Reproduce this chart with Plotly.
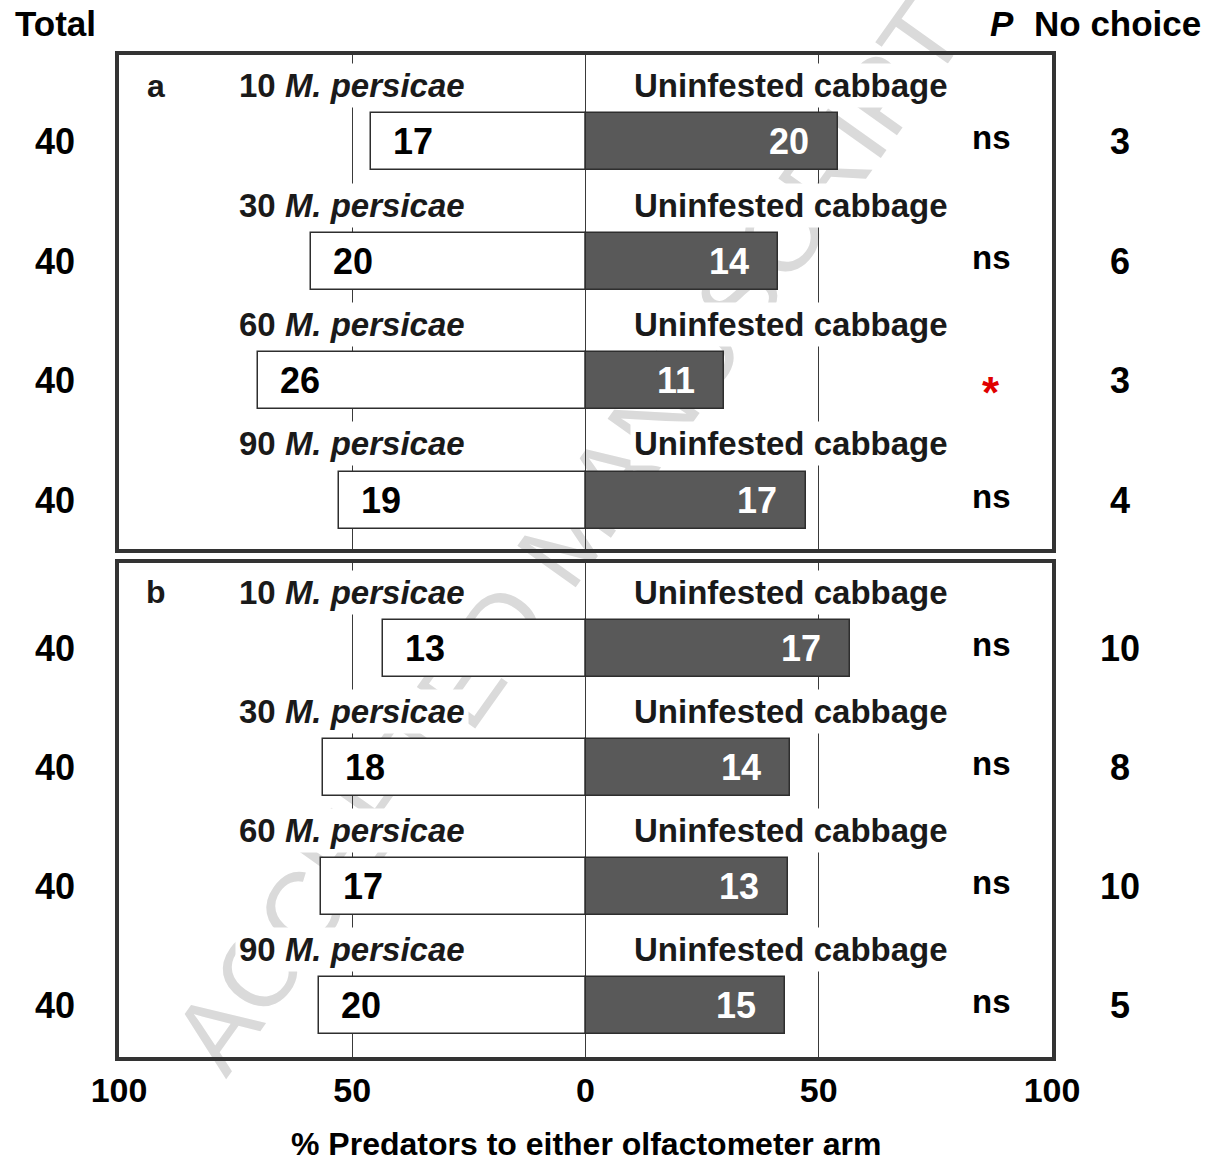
import plotly.graph_objects as go

# Aphid densities offered against uninfested cabbage
densities = [10, 30, 60, 90]
row_ids = [0, 1, 2, 3]

# Panel a: counts choosing each arm
a_aphid = [17, 20, 26, 19]
a_cabbage = [20, 14, 11, 17]
a_nochoice = [3, 6, 3, 4]
a_total = [40, 40, 40, 40]
a_sig = ["ns", "ns", "*", "ns"]

# Panel b: counts choosing each arm
b_aphid = [13, 18, 17, 20]
b_cabbage = [17, 14, 13, 15]
b_nochoice = [10, 8, 10, 5]
b_total = [40, 40, 40, 40]
b_sig = ["ns", "ns", "ns", "ns"]

tick_vals = [-100, -50, 0, 50, 100]
tick_text = ["100", "50", "0", "50", "100"]

FONT = "Liberation Sans"
DARK = "#595959"
EDGE = "#2e2e2e"

# figure geometry (pixels)
W, H = 1212, 1163
ML, MR, MT, MB = 119, 160, 55, 106
PW = W - ML - MR
PH = H - MT - MB


def px_x(px):
    return (px - ML) / PW


def px_y(py):
    return (H - MB - py) / PH


panels = [
    dict(aphid=a_aphid, cab=a_cabbage, nc=a_nochoice, tot=a_total, sig=a_sig,
         xa="x", ya="y", tag="a", rng=[3.41, -0.728]),
    dict(aphid=b_aphid, cab=b_cabbage, nc=b_nochoice, tot=b_total, sig=b_sig,
         xa="x2", ya="y2", tag="b", rng=[3.435, -0.715]),
]

fig = go.Figure()
annotations = []


def note(**kw):
    kw.setdefault("showarrow", False)
    kw.setdefault("xanchor", "center")
    kw.setdefault("yanchor", "middle")
    annotations.append(kw)


for p in panels:
    responders = [t - n for t, n in zip(p["tot"], p["nc"])]
    left_pct = [c / r * 100 for c, r in zip(p["aphid"], responders)]
    right_pct = [c / r * 100 for c, r in zip(p["cab"], responders)]

    fig.add_trace(go.Bar(
        y=row_ids, x=[-v for v in left_pct], orientation="h", width=0.477,
        marker=dict(color="white", line=dict(color=EDGE, width=1.5)),
        xaxis=p["xa"], yaxis=p["ya"], showlegend=False, hoverinfo="skip"))
    fig.add_trace(go.Bar(
        y=row_ids, x=right_pct, orientation="h", width=0.477,
        marker=dict(color=DARK, line=dict(color=EDGE, width=1.5)),
        xaxis=p["xa"], yaxis=p["ya"], showlegend=False, hoverinfo="skip"))

    xr, yr = p["xa"], p["ya"]
    lab_font = dict(family=FONT, size=33, color="#1a1a1a", weight="bold")
    num_font = dict(family=FONT, size=36, color="black", weight="bold")

    note(x=-92, y=-0.47, xref=xr, yref=yr, text=p["tag"],
         font=dict(family=FONT, size=32, color="#1a1a1a", weight="bold"),
         bgcolor="white", borderpad=4)

    for i in row_ids:
        ly = i - 0.47
        note(x=-50, y=ly, xref=xr, yref=yr,
             text=f"{densities[i]} <i>M. persicae</i>", font=lab_font,
             bgcolor="white", borderpad=3)
        note(x=44, y=ly, xref=xr, yref=yr,
             text="Uninfested cabbage", font=lab_font,
             bgcolor="white", borderpad=3)
        note(x=-left_pct[i], y=i, xref=xr, yref=yr,
             xanchor="left", xshift=20, text=str(p["aphid"][i]), font=num_font)
        note(x=right_pct[i], y=i, xref=xr, yref=yr,
             xanchor="right", xshift=-27, text=str(p["cab"][i]),
             font=dict(num_font, color="white"))
        if p["sig"][i] == "*":
            note(x=87, y=i, xref=xr, yref=yr, yshift=-12, text="*",
                 font=dict(family=FONT, size=44, color="#e00000",
                           weight="bold"))
        else:
            note(x=87, y=i, xref=xr, yref=yr, yshift=4, text=p["sig"][i],
                 font=dict(family=FONT, size=33, color="black", weight="bold"))
        note(x=px_x(55), y=i, xref="paper", yref=yr,
             text=str(p["tot"][i]), font=num_font)
        note(x=px_x(1120), y=i, xref="paper", yref=yr,
             text=str(p["nc"][i]), font=num_font)

# column headers
head_font = dict(family=FONT, size=35, color="black", weight="bold")
note(x=px_x(55), y=px_y(24), xref="paper", yref="paper",
     text="Total", font=head_font)
note(x=px_x(1002), y=px_y(24), xref="paper", yref="paper",
     text="<i>P</i>", font=head_font)
note(x=px_x(1117), y=px_y(24), xref="paper", yref="paper",
     text="No choice", font=head_font)
# x-axis title
note(x=px_x(586), y=px_y(1144), xref="paper", yref="paper",
     text="% Predators to either olfactometer arm",
     font=dict(family=FONT, size=32, color="black", weight="bold"))

frame = dict(showline=True, mirror=True, linewidth=4, linecolor="#333333")
xcommon = dict(range=[-100, 100], tickvals=tick_vals, ticktext=tick_text,
               showgrid=True, gridcolor="#3a3a3a", gridwidth=1,
               zeroline=False, ticks="", fixedrange=True, **frame)
ycommon = dict(showticklabels=False, showgrid=False, zeroline=False,
               ticks="", **frame)

split_top = px_y(549)
split_bot = px_y(563)

fig.update_layout(
    width=W, height=H,
    margin=dict(l=ML, r=MR, t=MT, b=MB),
    paper_bgcolor="white", plot_bgcolor="rgba(0,0,0,0)",
    barmode="overlay", bargap=0,
    xaxis=dict(anchor="y", showticklabels=False, **xcommon),
    yaxis=dict(domain=[split_top, 1], range=panels[0]["rng"], anchor="x",
               **ycommon),
    xaxis2=dict(anchor="y2", showticklabels=True, ticklabelstandoff=0,
                tickfont=dict(family=FONT, size=34, color="black",
                              weight="bold"), **xcommon),
    yaxis2=dict(domain=[0, split_bot], range=panels[1]["rng"], anchor="x2",
                **ycommon),
    annotations=annotations,
    shapes=[dict(
        type="line", xref="paper", yref="paper", layer="below",
        x0=px_x(175), y0=px_y(1070), x1=px_x(945), y1=px_y(-10),
        line=dict(width=0, color="rgba(0,0,0,0)"),
        label=dict(text="ACCEPTED MANUSCRIPT", textangle=-54.6,
                   textposition="middle", xanchor="center", yanchor="middle",
                   font=dict(family=FONT, size=104, color="#dadada")))],
)

fig.write_html("out.html")
